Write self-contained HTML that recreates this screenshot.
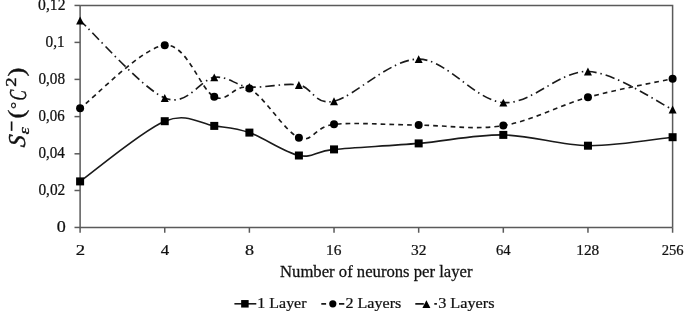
<!DOCTYPE html>
<html><head><meta charset="utf-8"><style>
html,body{margin:0;padding:0;background:#fff;}
svg{display:block;will-change:transform;filter:blur(0.35px);}
</style></head><body>
<svg width="685" height="315" viewBox="0 0 685 315">
<path d="M80.1,5.45 H672.6 V227.45" fill="none" stroke="#5a5a5a" stroke-width="1.5"/>
<path d="M80.1,5.45 V227.45 H672.6" fill="none" stroke="#5a5a5a" stroke-width="1.5"/>
<line x1="74.50" y1="5.45" x2="80.10" y2="5.45" stroke="#5a5a5a" stroke-width="1.5"/>
<line x1="74.50" y1="42.40" x2="80.10" y2="42.40" stroke="#5a5a5a" stroke-width="1.5"/>
<line x1="74.50" y1="79.40" x2="80.10" y2="79.40" stroke="#5a5a5a" stroke-width="1.5"/>
<line x1="74.50" y1="116.60" x2="80.10" y2="116.60" stroke="#5a5a5a" stroke-width="1.5"/>
<line x1="74.50" y1="153.80" x2="80.10" y2="153.80" stroke="#5a5a5a" stroke-width="1.5"/>
<line x1="74.50" y1="190.50" x2="80.10" y2="190.50" stroke="#5a5a5a" stroke-width="1.5"/>
<line x1="74.50" y1="227.45" x2="80.10" y2="227.45" stroke="#5a5a5a" stroke-width="1.5"/>
<line x1="80.10" y1="227.45" x2="80.10" y2="232.75" stroke="#5a5a5a" stroke-width="1.5"/>
<line x1="164.74" y1="227.45" x2="164.74" y2="232.75" stroke="#5a5a5a" stroke-width="1.5"/>
<line x1="249.39" y1="227.45" x2="249.39" y2="232.75" stroke="#5a5a5a" stroke-width="1.5"/>
<line x1="334.03" y1="227.45" x2="334.03" y2="232.75" stroke="#5a5a5a" stroke-width="1.5"/>
<line x1="418.67" y1="227.45" x2="418.67" y2="232.75" stroke="#5a5a5a" stroke-width="1.5"/>
<line x1="503.31" y1="227.45" x2="503.31" y2="232.75" stroke="#5a5a5a" stroke-width="1.5"/>
<line x1="587.96" y1="227.45" x2="587.96" y2="232.75" stroke="#5a5a5a" stroke-width="1.5"/>
<line x1="672.60" y1="227.45" x2="672.60" y2="232.75" stroke="#5a5a5a" stroke-width="1.5"/>
<path d="M80.10,181.40 C94.21,171.37 142.38,130.45 164.74,121.20 C187.10,111.95 200.15,124.00 214.26,125.90 C228.36,127.80 235.28,127.67 249.39,132.60 C263.49,137.53 284.79,152.70 298.90,155.50 C313.01,158.30 314.07,151.42 334.03,149.40 C353.99,147.38 390.46,145.82 418.67,143.40 C446.89,140.98 475.10,134.52 503.31,134.90 C531.53,135.28 559.74,145.32 587.96,145.70 C616.17,146.08 658.49,138.62 672.60,137.20" fill="none" stroke="#1a1a1a" stroke-width="1.6"/>
<path d="M80.10,108.30 C94.21,97.78 142.38,47.12 164.74,45.20 C187.10,43.28 200.15,89.57 214.26,96.80 C228.36,104.03 235.28,81.78 249.39,88.60 C263.49,95.42 284.79,131.75 298.90,137.70 C313.01,143.65 314.07,126.40 334.03,124.30 C353.99,122.20 390.46,124.88 418.67,125.10 C446.89,125.32 475.10,130.23 503.31,125.60 C531.53,120.97 559.74,105.12 587.96,97.30 C616.17,89.48 658.49,81.80 672.60,78.70" fill="none" stroke="#1a1a1a" stroke-width="1.65" stroke-dasharray="4.7 4.051" stroke-dashoffset="1.251"/>
<path d="M80.10,20.50 C94.21,33.42 142.38,88.52 164.74,98.00 C187.10,107.48 200.15,79.23 214.26,77.40 C228.36,75.57 235.28,85.73 249.39,87.00 C263.49,88.27 284.79,82.63 298.90,85.00 C313.01,87.37 314.07,105.52 334.03,101.20 C353.99,96.88 390.46,58.87 418.67,59.10 C446.89,59.33 475.10,100.53 503.31,102.60 C531.53,104.67 559.74,70.35 587.96,71.50 C616.17,72.65 658.49,103.17 672.60,109.50" fill="none" stroke="#1a1a1a" stroke-width="1.65" stroke-dasharray="9.4 3.8 1.5 4.09" stroke-dashoffset="1.05"/>
<rect x="76.10" y="177.40" width="8.0" height="8.0" fill="#000"/>
<rect x="160.74" y="117.20" width="8.0" height="8.0" fill="#000"/>
<rect x="210.26" y="121.90" width="8.0" height="8.0" fill="#000"/>
<rect x="245.39" y="128.60" width="8.0" height="8.0" fill="#000"/>
<rect x="294.90" y="151.50" width="8.0" height="8.0" fill="#000"/>
<rect x="330.03" y="145.40" width="8.0" height="8.0" fill="#000"/>
<rect x="414.67" y="139.40" width="8.0" height="8.0" fill="#000"/>
<rect x="499.31" y="130.90" width="8.0" height="8.0" fill="#000"/>
<rect x="583.96" y="141.70" width="8.0" height="8.0" fill="#000"/>
<rect x="668.60" y="133.20" width="8.0" height="8.0" fill="#000"/>
<circle cx="80.10" cy="108.30" r="4.00" fill="#000"/>
<circle cx="164.74" cy="45.20" r="4.00" fill="#000"/>
<circle cx="214.26" cy="96.80" r="4.00" fill="#000"/>
<circle cx="249.39" cy="88.60" r="4.00" fill="#000"/>
<circle cx="298.90" cy="137.70" r="4.00" fill="#000"/>
<circle cx="334.03" cy="124.30" r="4.00" fill="#000"/>
<circle cx="418.67" cy="125.10" r="4.00" fill="#000"/>
<circle cx="503.31" cy="125.60" r="4.00" fill="#000"/>
<circle cx="587.96" cy="97.30" r="4.00" fill="#000"/>
<circle cx="672.60" cy="78.70" r="4.00" fill="#000"/>
<path d="M80.10,16.55 L84.10,24.45 L76.10,24.45 Z" fill="#000"/>
<path d="M164.74,94.05 L168.74,101.95 L160.74,101.95 Z" fill="#000"/>
<path d="M214.26,73.45 L218.26,81.35 L210.26,81.35 Z" fill="#000"/>
<path d="M249.39,83.05 L253.39,90.95 L245.39,90.95 Z" fill="#000"/>
<path d="M298.90,81.05 L302.90,88.95 L294.90,88.95 Z" fill="#000"/>
<path d="M334.03,97.25 L338.03,105.15 L330.03,105.15 Z" fill="#000"/>
<path d="M418.67,55.15 L422.67,63.05 L414.67,63.05 Z" fill="#000"/>
<path d="M503.31,98.65 L507.31,106.55 L499.31,106.55 Z" fill="#000"/>
<path d="M587.96,67.55 L591.96,75.45 L583.96,75.45 Z" fill="#000"/>
<path d="M672.60,105.55 L676.60,113.45 L668.60,113.45 Z" fill="#000"/>
<line x1="234.4" y1="303.8" x2="256.3" y2="303.8" stroke="#1a1a1a" stroke-width="1.6"/>
<rect x="241.15" y="300.05" width="7.5" height="7.5" fill="#000"/>
<path d="M321.3,303.8 H326.1 M339,303.8 H344.3" stroke="#1a1a1a" stroke-width="1.65"/>
<circle cx="332.8" cy="303.8" r="3.6" fill="#000"/>
<path d="M415.3,303.8 H423.8 M434.3,303.8 H436.9" stroke="#1a1a1a" stroke-width="1.65"/>
<path d="M426.4,300.3 L430.4,307.90000000000003 L422.4,307.90000000000003 Z" fill="#000"/>
<g transform="matrix(0.9794 0 0 0.9818 38.110 10.005)"><text font-family="Liberation Serif" font-size="16"  fill="#111" stroke="#111" stroke-width="0.25">0,12</text></g>
<g transform="matrix(0.9547 0 0 0.9818 45.523 46.955)"><text font-family="Liberation Serif" font-size="16"  fill="#111" stroke="#111" stroke-width="0.25">0,1</text></g>
<g transform="matrix(0.9519 0 0 0.9818 38.424 83.955)"><text font-family="Liberation Serif" font-size="16"  fill="#111" stroke="#111" stroke-width="0.25">0,08</text></g>
<g transform="matrix(0.9321 0 0 0.9818 38.534 121.155)"><text font-family="Liberation Serif" font-size="16"  fill="#111" stroke="#111" stroke-width="0.25">0,06</text></g>
<g transform="matrix(0.9431 0 0 0.9818 38.428 158.355)"><text font-family="Liberation Serif" font-size="16"  fill="#111" stroke="#111" stroke-width="0.25">0,04</text></g>
<g transform="matrix(0.9607 0 0 0.9818 38.420 195.055)"><text font-family="Liberation Serif" font-size="16"  fill="#111" stroke="#111" stroke-width="0.25">0,02</text></g>
<g transform="matrix(1.1286 0 0 0.9818 56.736 232.005)"><text font-family="Liberation Serif" font-size="16"  fill="#111" stroke="#111" stroke-width="0.25">0</text></g>
<g transform="matrix(1.1704 0 0 0.9727 75.715 254.557)"><text font-family="Liberation Serif" font-size="16"  fill="#111" stroke="#111" stroke-width="0.25">2</text></g>
<g transform="matrix(1.0533 0 0 0.9727 160.680 254.557)"><text font-family="Liberation Serif" font-size="16"  fill="#111" stroke="#111" stroke-width="0.25">4</text></g>
<g transform="matrix(1.1286 0 0 0.9727 245.021 254.557)"><text font-family="Liberation Serif" font-size="16"  fill="#111" stroke="#111" stroke-width="0.25">8</text></g>
<g transform="matrix(0.9655 0 0 0.9727 325.972 254.557)"><text font-family="Liberation Serif" font-size="16"  fill="#111" stroke="#111" stroke-width="0.25">16</text></g>
<g transform="matrix(0.9655 0 0 0.9727 411.097 254.557)"><text font-family="Liberation Serif" font-size="16"  fill="#111" stroke="#111" stroke-width="0.25">32</text></g>
<g transform="matrix(0.9180 0 0 0.9727 496.005 254.557)"><text font-family="Liberation Serif" font-size="16"  fill="#111" stroke="#111" stroke-width="0.25">64</text></g>
<g transform="matrix(0.9573 0 0 0.9727 576.261 254.557)"><text font-family="Liberation Serif" font-size="16"  fill="#111" stroke="#111" stroke-width="0.25">128</text></g>
<g transform="matrix(0.9161 0 0 0.9727 661.642 254.557)"><text font-family="Liberation Serif" font-size="16"  fill="#111" stroke="#111" stroke-width="0.25">256</text></g>
<g transform="matrix(1.0417 0 0 1.0508 280.040 277.422)"><text font-family="Liberation Serif" font-size="16"  fill="#111" stroke="#111" stroke-width="0.25">Number of neurons per layer</text></g>
<g transform="matrix(0.9979 0 0 0.9302 257.353 308.300)"><text font-family="Liberation Serif" font-size="16"  fill="#111" stroke="#111" stroke-width="0.25">1 Layer</text></g>
<g transform="matrix(1.0055 0 0 0.9302 345.497 308.300)"><text font-family="Liberation Serif" font-size="16"  fill="#111" stroke="#111" stroke-width="0.25">2 Layers</text></g>
<g transform="matrix(1.0175 0 0 0.9302 438.137 308.300)"><text font-family="Liberation Serif" font-size="16"  fill="#111" stroke="#111" stroke-width="0.25">3 Layers</text></g>
<g transform="matrix(1.0121 0 0 0.9818 24.894 147.845)"><text font-family="Liberation Serif" font-size="24" font-style="italic" fill="#111" stroke="#111" stroke-width="0.4" transform="rotate(-90) skewX(-8)">S</text></g>
<g transform="matrix(0.9000 0 0 1.1360 29.175 134.384)"><text font-family="Liberation Serif" font-size="16" font-style="italic" fill="#111" stroke="#111" stroke-width="0.4" transform="rotate(-90)">ε</text></g>
<g transform="matrix(1.0000 0 0 1.1294 16.875 131.282)"><text font-family="Liberation Serif" font-size="16"  fill="#111" stroke="#111" stroke-width="0.9" transform="rotate(-90)">−</text></g>
<g transform="matrix(0.9663 0 0 1.1077 24.327 118.608)"><text font-family="Liberation Serif" font-size="24"  fill="#111" stroke="#111" stroke-width="0.4" transform="rotate(-90)">(</text></g>
<g transform="matrix(0.7226 0 0 0.7467 22.042 108.947)"><text font-family="Liberation Serif" font-size="24"  fill="#111" stroke="#111" stroke-width="0.4" transform="rotate(-90)">°</text></g>
<g transform="matrix(1.0121 0 0 0.6338 25.694 100.809)"><text font-family="Liberation Serif" font-size="24" font-style="italic" fill="#111" stroke="#111" stroke-width="0.4" transform="rotate(-90) skewX(-6)">C</text></g>
<g transform="matrix(0.9455 0 0 1.1704 16.464 86.785)"><text font-family="Liberation Serif" font-size="16"  fill="#111" stroke="#111" stroke-width="0.4" transform="rotate(-90)">2</text></g>
<g transform="matrix(0.9663 0 0 1.1077 24.327 76.454)"><text font-family="Liberation Serif" font-size="24"  fill="#111" stroke="#111" stroke-width="0.4" transform="rotate(-90)">)</text></g>
</svg>
</body></html>
